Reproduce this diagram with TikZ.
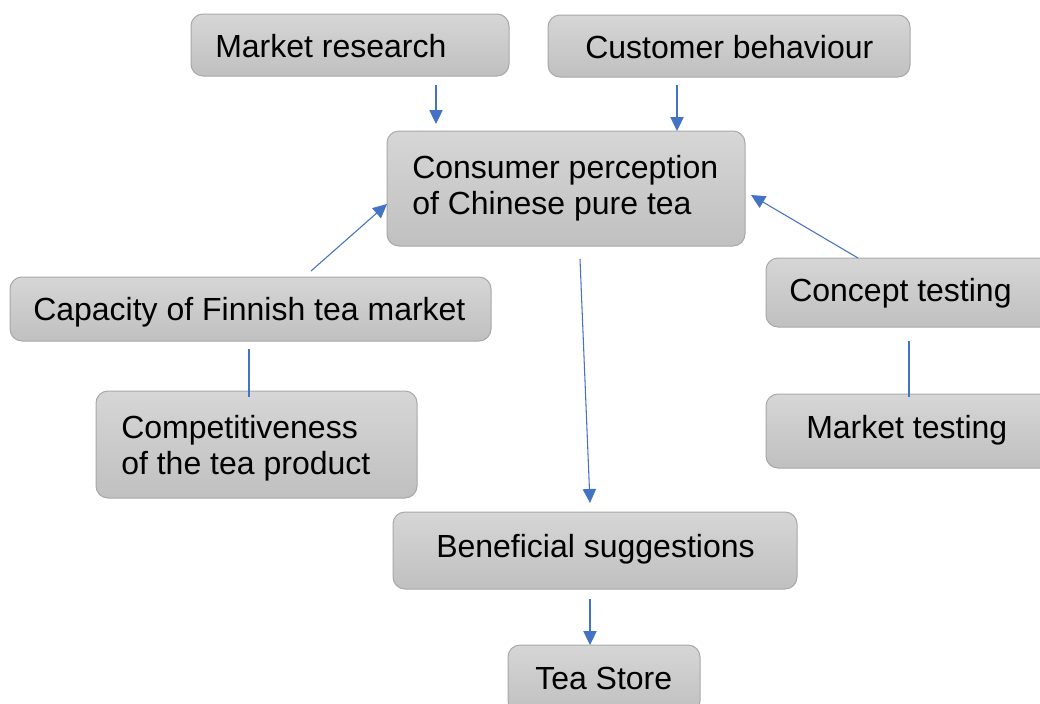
\documentclass[tikz,border=0pt]{standalone}
\usepackage{fontspec}
\setmainfont{Liberation Sans}
\usetikzlibrary{arrows.meta}
\definecolor{boxtop}{RGB}{214,214,214}
\definecolor{boxbot}{RGB}{192,192,192}
\definecolor{boxline}{RGB}{168,168,168}
\definecolor{flow}{RGB}{68,114,196}
\begin{document}
\begin{tikzpicture}[x=0.75pt,y=-0.75pt,
  stagebox/.style={draw=boxline, line width=0.75pt, rounded corners=9pt,
    top color=boxtop, bottom color=boxbot, anchor=north west,
    inner sep=0pt, outer sep=0pt},
  caption/.style={anchor=base west, inner sep=0pt, align=left,
    font=\fontsize{24}{27}\selectfont},
  flowline/.style={draw=flow, line width=0.8pt},
  flowarrow/.style={flowline, -{Triangle[length=10.5pt,width=10pt]}}]
\useasboundingbox (0,0) rectangle (1040,704);
\clip (0,0) rectangle (1040,704);

% boxes (position = top-left corner in px)
\node[stagebox, minimum width=238.5pt, minimum height=46.5pt] (mr)   at (191,14)  {};
\node[stagebox, minimum width=271.5pt, minimum height=46.5pt] (cb)   at (548,15)  {};
\node[stagebox, minimum width=268.5pt, minimum height=86.25pt] (cp)  at (387,131) {};
\node[stagebox, minimum width=360.75pt, minimum height=48pt] (cap)   at (10,277)  {};
\node[stagebox, minimum width=240.75pt, minimum height=80.25pt] (comp) at (96,391) {};
\node[stagebox, minimum width=217.5pt, minimum height=51.75pt] (ct)  at (766,258) {};
\node[stagebox, minimum width=217.5pt, minimum height=55.5pt] (mt)   at (766,394) {};
\node[stagebox, minimum width=303pt, minimum height=57.75pt] (bs)    at (393,512) {};
\node[stagebox, minimum width=144pt, minimum height=51pt] (ts)       at (508,645) {};

% captions (base = baseline of the last line)
\node[caption] (mr-t)   at (215,57) {Market research};
\node[caption] (cb-t)   at (585,58) {Customer behaviour};
\node[caption] (cp-t)   at (412,214) {Consumer perception\\of Chinese pure tea};
\node[caption] (cap-t)  at (33,320) {Capacity of Finnish tea market};
\node[caption] (comp-t) at (121,474) {Competitiveness\\of the tea product};
\node[caption] (ct-t)   at (789,301) {Concept testing};
\node[caption] (mt-t)   at (806,438) {Market testing};
\node[caption] (bs-t)   at (436,557) {Beneficial suggestions};
\node[caption] (ts-t)   at (535,689) {Tea Store};

% connector end points
\coordinate (mr-o)  at (436,85);  \coordinate (cp-i1) at (436,124);
\coordinate (cb-o)  at (677,85);  \coordinate (cp-i2) at (677,131);
\coordinate (cap-o) at (311,271); \coordinate (cp-i3) at (387,204);
\coordinate (ct-o)  at (858,258); \coordinate (cp-i4) at (751,195);
\coordinate (cp-o)  at (580,259); \coordinate (bs-i)  at (590,503);
\coordinate (bs-o)  at (590,599); \coordinate (ts-i)  at (590,645);
\coordinate (cap-d) at (249,349); \coordinate (comp-u) at (249,397);
\coordinate (ct-d)  at (909,341); \coordinate (mt-u)  at (909,397);

% connectors
\draw[flowarrow] (mr-o) -- (cp-i1);
\draw[flowarrow] (cb-o) -- (cp-i2);
\draw[flowarrow] (cap-o) -- (cp-i3);
\draw[flowarrow] (ct-o) -- (cp-i4);
\draw[flowarrow] (cp-o) -- (bs-i);
\draw[flowarrow] (bs-o) -- (ts-i);
\draw[flowline] (cap-d) -- (comp-u);
\draw[flowline] (ct-d) -- (mt-u);
\end{tikzpicture}
\end{document}
